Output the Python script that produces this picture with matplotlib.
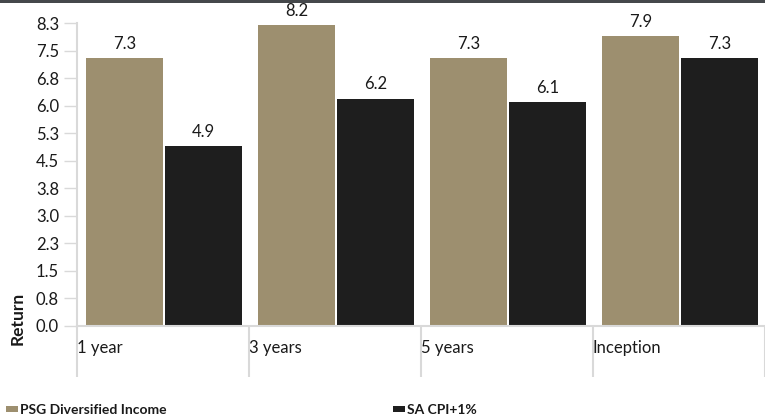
import matplotlib
matplotlib.use("Agg")
import matplotlib.pyplot as plt
from matplotlib.patches import Rectangle, Patch

categories = ["1 year", "3 years", "5 years", "Inception"]
psg_values = [7.3, 8.2, 7.3, 7.9]
cpi_values = [4.9, 6.2, 6.1, 7.3]
series_names = ["PSG Diversified Income", "SA CPI+1%"]
ytick_values = [0.0, 0.75, 1.5, 2.25, 3.0, 3.75, 4.5, 5.25, 6.0, 6.75, 7.5, 8.25]
ytick_labels = ["0.0", "0.8", "1.5", "2.3", "3.0", "3.8", "4.5", "5.3", "6.0", "6.8", "7.5", "8.3"]

TAN = "#9d8f6f"
BLACK = "#1e1e1e"
GRID = "#d9d9d9"
TXT = "#1a1a1a"

plt.rcParams["font.family"] = ["Lato", "DejaVu Sans"]

W, H = 765, 416
fig = plt.figure(figsize=(W / 100, H / 100), dpi=100)
ax = fig.add_axes([77 / W, 1 - 325.7 / H, 688 / W, (325.7 - 23.5) / H])

n = len(categories)
x0 = list(range(n))
bw = 0.448
ax.bar([i + 0.277 for i in x0], psg_values, width=bw, color=TAN, linewidth=0)
ax.bar([i + 0.735 for i in x0], cpi_values, width=bw, color=BLACK, linewidth=0)

for i in x0:
    ax.annotate(f"{psg_values[i]:.1f}", (i + 0.277, psg_values[i]), xytext=(0, 4.5),
                textcoords="offset points", ha="center", va="bottom", fontsize=12, color=TXT)
    ax.annotate(f"{cpi_values[i]:.1f}", (i + 0.735, cpi_values[i]), xytext=(0, 4.5),
                textcoords="offset points", ha="center", va="bottom", fontsize=12, color=TXT)

ax.set_xlim(0, n)
ax.set_ylim(0, 8.25)
ax.set_yticks(ytick_values)
ax.set_yticklabels(ytick_labels)
ax.tick_params(axis="y", length=9.4, width=1, color=GRID, pad=3.5, labelsize=12, labelcolor=TXT)

ax.xaxis.remove_overlapping_locs = False
ax.set_xticks(x0)
ax.set_xticklabels(categories)
for lab in ax.get_xticklabels():
    lab.set_ha("left")
ax.tick_params(axis="x", which="major", length=0, pad=10, labelsize=12, labelcolor=TXT)
ax.set_xticks(x0 + [n], minor=True)
ax.tick_params(axis="x", which="minor", length=36.7, width=1.5, color=GRID)

for s in ["top", "right"]:
    ax.spines[s].set_visible(False)
for s in ["left", "bottom"]:
    ax.spines[s].set_color(GRID)
    ax.spines[s].set_linewidth(1.5)

fig.text(17.5 / W, 1 - 345 / H, "Return", rotation=90, ha="center", va="bottom",
         fontsize=12.5, fontweight="bold", color=TXT)

fig.add_artist(Rectangle((0, 1 - 2.5 / H), 1, 2.5 / H, transform=fig.transFigure,
                         color="#45484b", linewidth=0))

for name, col, xpos in [(series_names[0], TAN, 6.5), (series_names[1], BLACK, 393.5)]:
    fig.legend(handles=[Patch(facecolor=col, edgecolor="none", label=name)],
               loc="center left", bbox_to_anchor=(xpos / W, 1 - 410 / H),
               frameon=False, borderpad=0, borderaxespad=0,
               handlelength=0.85, handleheight=0.36, handletextpad=0.1,
               prop={"size": 10, "weight": "bold"}, labelcolor=TXT)

fig.savefig("out.png", dpi=100)
